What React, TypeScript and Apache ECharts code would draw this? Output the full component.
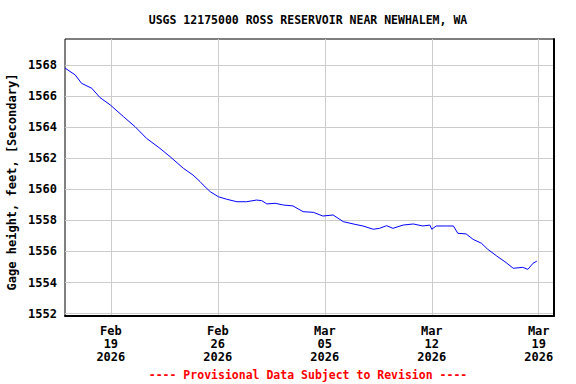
import React, { useEffect, useRef } from "react";
import * as echarts from "echarts";

const TITLE = "USGS 12175000 ROSS RESERVOIR NEAR NEWHALEM, WA";
const Y_NAME = "Gage height, feet, [Secondary]";
const FOOTER = "---- Provisional Data Subject to Revision ----";

const times = [
  "2026-02-16T00:00", "2026-02-16T16:00", "2026-02-17T02:00", "2026-02-17T18:00",
  "2026-02-18T07:00", "2026-02-18T23:00", "2026-02-19T20:00", "2026-02-20T14:00",
  "2026-02-21T08:00", "2026-02-22T05:00", "2026-02-22T21:00", "2026-02-23T18:00",
  "2026-02-24T09:00", "2026-02-24T20:00", "2026-02-25T01:00", "2026-02-25T12:00",
  "2026-02-26T01:00", "2026-02-26T14:00", "2026-02-27T06:00", "2026-02-27T21:00",
  "2026-02-28T13:00", "2026-02-28T21:00", "2026-03-01T05:00", "2026-03-01T18:00",
  "2026-03-02T07:00", "2026-03-02T22:00", "2026-03-03T14:00", "2026-03-04T06:00",
  "2026-03-04T21:00", "2026-03-05T13:00", "2026-03-06T05:00", "2026-03-06T23:00",
  "2026-03-07T12:00", "2026-03-08T04:00", "2026-03-08T14:00", "2026-03-09T01:00",
  "2026-03-09T11:00", "2026-03-10T03:00", "2026-03-10T19:00", "2026-03-11T10:00",
  "2026-03-11T21:00", "2026-03-12T00:00", "2026-03-12T07:00", "2026-03-12T23:00",
  "2026-03-13T10:00", "2026-03-13T17:00", "2026-03-14T06:00", "2026-03-14T17:00",
  "2026-03-15T06:00", "2026-03-15T16:00", "2026-03-16T06:00", "2026-03-16T19:00",
  "2026-03-17T08:00", "2026-03-17T23:00", "2026-03-18T07:00", "2026-03-18T15:00",
  "2026-03-18T21:00",
];

const gageHeight = [
  1567.8, 1567.36, 1566.82, 1566.5,
  1565.9, 1565.43, 1564.67, 1564.03,
  1563.28, 1562.64, 1562.1, 1561.35,
  1560.92, 1560.5, 1560.28, 1559.85,
  1559.52, 1559.36, 1559.2, 1559.2,
  1559.31, 1559.27, 1559.06, 1559.1,
  1558.99, 1558.93, 1558.56, 1558.52,
  1558.28, 1558.35, 1557.92, 1557.75,
  1557.64, 1557.43, 1557.49, 1557.66,
  1557.49, 1557.7, 1557.77, 1557.64,
  1557.7, 1557.43, 1557.64, 1557.64,
  1557.64, 1557.17, 1557.13, 1556.78,
  1556.53, 1556.14, 1555.71, 1555.34,
  1554.92, 1554.98, 1554.85, 1555.24,
  1555.38,
];

const xTickDates = ["2026-02-19", "2026-02-26", "2026-03-05", "2026-03-12", "2026-03-19"];
const yTicks = [1552, 1554, 1556, 1558, 1560, 1562, 1564, 1566, 1568];
const X_MIN = "2026-02-16T00:00";
const X_MAX = "2026-03-20T00:00";
const Y_MIN = 1551.85;
const Y_MAX = 1569.67;
const MONTHS = ["Jan", "Feb", "Mar", "Apr", "May", "Jun", "Jul", "Aug", "Sep", "Oct", "Nov", "Dec"];

function toUtc(s: string): number {
  const [d, t = "00:00"] = s.split("T");
  const [Y, M, D] = d.split("-").map(Number);
  const [h, m] = t.split(":").map(Number);
  return Date.UTC(Y, M - 1, D, h, m);
}

const FONT = "'DejaVu Sans Mono', 'Liberation Mono', monospace";

export default function App() {
  const ref = useRef<HTMLDivElement>(null);
  useEffect(() => {
    if (!ref.current) return;
    const chart = echarts.init(ref.current, null, { renderer: "svg" });
    const data = times.map((t, i) => [toUtc(t), gageHeight[i]]);
    chart.setOption({
      animation: false,
      backgroundColor: "#ffffff",
      grid: {
        left: 65,
        right: 22,
        top: 39,
        bottom: 68,
        show: true,
        borderColor: "#000000",
        borderWidth: 1,
        backgroundColor: "#ffffff",
      },
      xAxis: {
        type: "value",
        min: toUtc(X_MIN),
        max: toUtc(X_MAX),
        axisLine: { show: true, onZero: false, lineStyle: { color: "#000000", width: 2 } },
        axisTick: { show: false, customValues: xTickDates.map(toUtc) },
        axisLabel: {
          customValues: xTickDates.map(toUtc),
          margin: 8,
          lineHeight: 13,
          color: "#000000",
          fontFamily: FONT,
          fontWeight: "bold",
          fontSize: 12,
          formatter: (v: number) => {
            const d = new Date(v);
            const dd = String(d.getUTCDate()).padStart(2, "0");
            return `${MONTHS[d.getUTCMonth()]}\n${dd}\n${d.getUTCFullYear()}`;
          },
        },
        splitLine: { show: true, lineStyle: { color: "#cccccc", width: 1 } },
      },
      yAxis: [
        {
          type: "value",
          min: Y_MIN,
          max: Y_MAX,
          axisLine: { show: false },
          axisTick: { show: false, customValues: yTicks },
          axisLabel: {
            customValues: yTicks,
            margin: 8,
            color: "#000000",
            fontFamily: FONT,
            fontWeight: "bold",
            fontSize: 12,
            formatter: (v: number) => String(Math.round(v)),
          },
          splitLine: { show: true, lineStyle: { color: "#cccccc", width: 1 } },
        },
        {
          type: "value",
          position: "right",
          min: Y_MIN,
          max: Y_MAX,
          axisLine: { show: true, onZero: false, lineStyle: { color: "#000000", width: 2 } },
          axisTick: { show: false },
          axisLabel: { show: false },
          splitLine: { show: false },
        },
      ],
      graphic: [
        {
          type: "text",
          x: 308,
          y: 20,
          style: {
            text: TITLE,
            fill: "#000000",
            font: `bold 11.5px ${FONT}`,
            textAlign: "center",
            textVerticalAlign: "middle",
          },
        },
        {
          type: "text",
          x: 12,
          y: 182,
          rotation: Math.PI / 2,
          style: {
            text: Y_NAME,
            fill: "#000000",
            font: `bold 12px ${FONT}`,
            textAlign: "center",
            textVerticalAlign: "middle",
          },
        },
        {
          type: "text",
          x: 308,
          y: 375,
          style: {
            text: FOOTER,
            fill: "#ff0000",
            font: `bold 11.5px ${FONT}`,
            textAlign: "center",
            textVerticalAlign: "middle",
          },
        },
      ],
      series: [
        {
          type: "line",
          data,
          showSymbol: false,
          symbol: "none",
          lineStyle: { color: "#0000ff", width: 1 },
          silent: true,
        },
      ],
    });
    return () => chart.dispose();
  }, []);
  return <div ref={ref} style={{ width: 576, height: 384, position: "absolute", left: 0, top: 0 }} />;
}
